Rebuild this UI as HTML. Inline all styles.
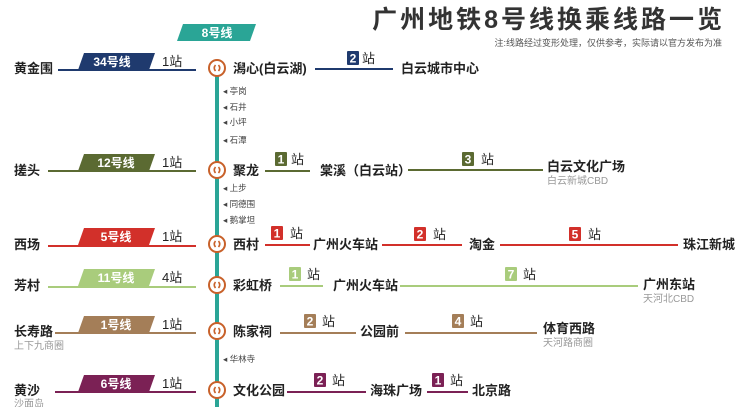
<!DOCTYPE html>
<html><head><meta charset="utf-8"><style>
html,body{margin:0;padding:0;background:#fff;width:740px;height:407px;overflow:hidden}
svg{display:block}
text{font-family:"Liberation Sans","Noto Sans CJK SC",sans-serif}
.b{font-weight:bold;font-size:13px;fill:#222}
.s{font-size:8.5px;fill:#444}
.g{font-size:10px;fill:#999}
.n{font-size:13px;fill:#222}
.bw{font-weight:bold;font-size:12px;fill:#fff}
</style></head><body>
<svg width="740" height="407" viewBox="0 0 740 407">
<defs>
<g id="ic"><circle r="8" fill="#fff" stroke="#c8612a" stroke-width="2"/>
<path d="M-1.5,-3 Q-4,0 -1.5,3 M1.5,-3 Q4,0 1.5,3" stroke="#c8612a" stroke-width="1.6" fill="none"/></g>
</defs>
<text x="725" y="28" text-anchor="end" style="font-size:25px;font-weight:bold;fill:#333;letter-spacing:3px">广州地铁8号线换乘线路一览</text>
<text x="722" y="46" text-anchor="end" style="font-size:9px;fill:#555">注:线路经过变形处理，仅供参考，实际请以官方发布为准</text>
<polygon points="183,24 256,24 250,41 177,41" fill="#2aa596"/>
<text x="217" y="37" text-anchor="middle" class="bw">8号线</text>
<rect x="215" y="74" width="4" height="333" fill="#2aa596"/>
<g class="s">
<text x="223" y="94">◂ 亭岗</text><text x="223" y="110">◂ 石井</text><text x="223" y="125">◂ 小坪</text><text x="223" y="143">◂ 石潭</text>
<text x="223" y="191">◂ 上步</text><text x="223" y="207">◂ 同德围</text><text x="223" y="223">◂ 鹅掌坦</text>
<text x="223" y="362">◂ 华林寺</text>
</g>

<text x="14" y="73" class="b">黄金围</text>
<rect x="58" y="69" width="138" height="2" fill="#1f3a6e"/>
<polygon points="84,53 155,53 149,70 78,70" fill="#1f3a6e"/>
<text x="112" y="66" text-anchor="middle" class="bw">34号线</text>
<text x="162" y="66" class="n">1站</text>
<use href="#ic" x="217" y="68"/>
<text x="233" y="73" class="b">潟心(白云湖)</text>
<rect x="315" y="68" width="78" height="2" fill="#1f3a6e"/>
<rect x="347" y="51" width="12" height="14" rx="1" fill="#1f3a6e"/><text x="353" y="62.5" text-anchor="middle" class="bw">2</text>
<text x="362" y="63" class="n">站</text>
<text x="401" y="73" class="b">白云城市中心</text>

<text x="14" y="175" class="b">搓头</text>
<rect x="48" y="170" width="148" height="2" fill="#5b6a32"/>
<polygon points="84,154 155,154 149,171 78,171" fill="#5b6a32"/>
<text x="116" y="167" text-anchor="middle" class="bw">12号线</text>
<text x="162" y="167" class="n">1站</text>
<use href="#ic" x="217" y="170"/>
<text x="233" y="175" class="b">聚龙</text>
<rect x="265" y="170" width="45" height="2" fill="#5b6a32"/>
<rect x="275" y="152" width="12" height="14" rx="1" fill="#5b6a32"/><text x="281" y="163.5" text-anchor="middle" class="bw">1</text>
<text x="291" y="164" class="n">站</text>
<text x="320" y="175" class="b">棠溪（白云站）</text>
<rect x="408" y="169" width="135" height="2" fill="#5b6a32"/>
<rect x="462" y="152" width="12" height="14" rx="1" fill="#5b6a32"/><text x="468" y="163.5" text-anchor="middle" class="bw">3</text>
<text x="481" y="164" class="n">站</text>
<text x="547" y="171" class="b">白云文化广场</text>
<text x="547" y="184" class="g">白云新城CBD</text>

<text x="14" y="249" class="b">西场</text>
<rect x="48" y="245" width="148" height="2" fill="#d2302a"/>
<polygon points="84,228 155,228 149,245 78,245" fill="#d2302a"/>
<text x="116" y="241" text-anchor="middle" class="bw">5号线</text>
<text x="162" y="241" class="n">1站</text>
<use href="#ic" x="217" y="244"/>
<text x="233" y="249" class="b">西村</text>
<rect x="265" y="244" width="45" height="2" fill="#d2302a"/>
<rect x="271" y="226" width="12" height="14" rx="1" fill="#d2302a"/><text x="277" y="237.5" text-anchor="middle" class="bw">1</text>
<text x="290" y="238" class="n">站</text>
<text x="313" y="249" class="b">广州火车站</text>
<rect x="382" y="244" width="80" height="2" fill="#d2302a"/>
<rect x="414" y="227" width="12" height="14" rx="1" fill="#d2302a"/><text x="420" y="238.5" text-anchor="middle" class="bw">2</text>
<text x="433" y="239" class="n">站</text>
<text x="469" y="249" class="b">淘金</text>
<rect x="500" y="244" width="178" height="2" fill="#d2302a"/>
<rect x="569" y="227" width="12" height="14" rx="1" fill="#d2302a"/><text x="575" y="238.5" text-anchor="middle" class="bw">5</text>
<text x="588" y="239" class="n">站</text>
<text x="683" y="249" class="b">珠江新城</text>

<text x="14" y="290" class="b">芳村</text>
<rect x="48" y="286" width="148" height="2" fill="#a9cc7c"/>
<polygon points="84,269 155,269 149,286 78,286" fill="#a9cc7c"/>
<text x="116" y="282" text-anchor="middle" class="bw">11号线</text>
<text x="162" y="282" class="n">4站</text>
<use href="#ic" x="217" y="285"/>
<text x="233" y="290" class="b">彩虹桥</text>
<rect x="280" y="285" width="43" height="2" fill="#a9cc7c"/>
<rect x="289" y="267" width="12" height="14" rx="1" fill="#a9cc7c"/><text x="295" y="278.5" text-anchor="middle" class="bw">1</text>
<text x="307" y="279" class="n">站</text>
<text x="333" y="290" class="b">广州火车站</text>
<rect x="400" y="285" width="238" height="2" fill="#a9cc7c"/>
<rect x="505" y="267" width="12" height="14" rx="1" fill="#a9cc7c"/><text x="511" y="278.5" text-anchor="middle" class="bw">7</text>
<text x="523" y="279" class="n">站</text>
<text x="643" y="289" class="b">广州东站</text>
<text x="643" y="302" class="g">天河北CBD</text>

<text x="14" y="336" class="b">长寿路</text>
<text x="14" y="349" class="g">上下九商圈</text>
<rect x="55" y="332" width="141" height="2" fill="#a47e58"/>
<polygon points="84,316 155,316 149,333 78,333" fill="#a47e58"/>
<text x="116" y="329" text-anchor="middle" class="bw">1号线</text>
<text x="162" y="329" class="n">1站</text>
<use href="#ic" x="217" y="331"/>
<text x="233" y="336" class="b">陈家祠</text>
<rect x="280" y="332" width="76" height="2" fill="#a47e58"/>
<rect x="304" y="314" width="12" height="14" rx="1" fill="#a47e58"/><text x="310" y="325.5" text-anchor="middle" class="bw">2</text>
<text x="322" y="326" class="n">站</text>
<text x="360" y="336" class="b">公园前</text>
<rect x="405" y="332" width="132" height="2" fill="#a47e58"/>
<rect x="452" y="314" width="12" height="14" rx="1" fill="#a47e58"/><text x="458" y="325.5" text-anchor="middle" class="bw">4</text>
<text x="470" y="326" class="n">站</text>
<text x="543" y="333" class="b">体育西路</text>
<text x="543" y="346" class="g">天河路商圈</text>

<text x="14" y="395" class="b">黄沙</text>
<text x="14" y="407" class="g">沙面岛</text>
<rect x="55" y="391" width="141" height="2" fill="#7b2155"/>
<polygon points="84,375 155,375 149,392 78,392" fill="#7b2155"/>
<text x="116" y="388" text-anchor="middle" class="bw">6号线</text>
<text x="162" y="388" class="n">1站</text>
<use href="#ic" x="217" y="390"/>
<text x="233" y="395" class="b">文化公园</text>
<rect x="287" y="391" width="79" height="2" fill="#7b2155"/>
<rect x="314" y="373" width="12" height="14" rx="1" fill="#7b2155"/><text x="320" y="384.5" text-anchor="middle" class="bw">2</text>
<text x="332" y="385" class="n">站</text>
<text x="370" y="395" class="b">海珠广场</text>
<rect x="427" y="391" width="41" height="2" fill="#7b2155"/>
<rect x="432" y="373" width="12" height="14" rx="1" fill="#7b2155"/><text x="438" y="384.5" text-anchor="middle" class="bw">1</text>
<text x="450" y="385" class="n">站</text>
<text x="472" y="395" class="b">北京路</text>
</svg>
</body></html>
